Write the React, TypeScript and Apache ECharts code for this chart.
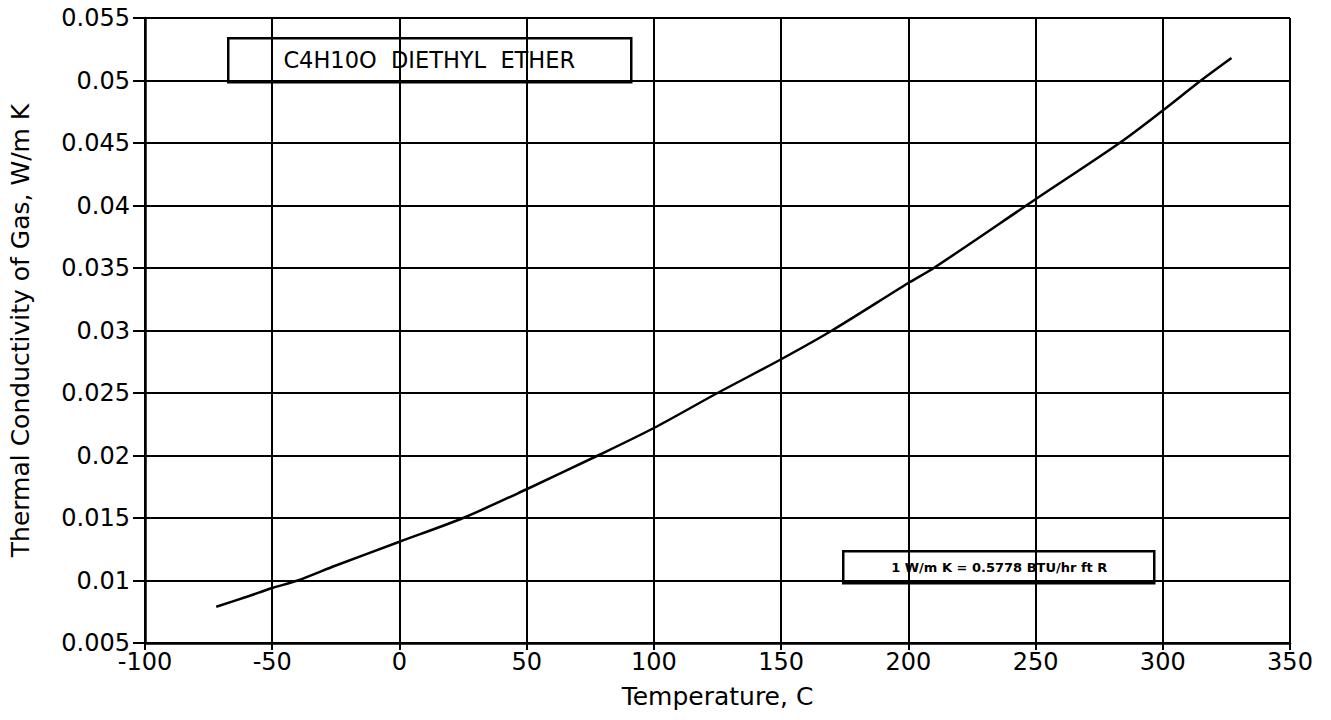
import React, { useEffect, useRef } from "react";
import * as echarts from "echarts";

const temperatureC = [-72, -60, -50, -40, -25, 0, 25, 50, 78, 100, 125, 150, 170, 200, 210, 250, 283, 300, 315, 327];
const conductivity = [0.0079, 0.0087, 0.0094, 0.0100, 0.0112, 0.0131, 0.0150, 0.0173, 0.0200, 0.0222, 0.0250, 0.0277, 0.0300, 0.0338, 0.0350, 0.0405, 0.0450, 0.0476, 0.0500, 0.0518];
const xTicks = [-100, -50, 0, 50, 100, 150, 200, 250, 300, 350];
const yTickLabels = ["0.005", "0.01", "0.015", "0.02", "0.025", "0.03", "0.035", "0.04", "0.045", "0.05", "0.055"];
const titleText = "C4H10O  DIETHYL  ETHER";
const unitText = "1 W/m K = 0.5778 BTU/hr ft R";

const FONT = "'DejaVu Sans', 'Liberation Sans', Arial, sans-serif";

export default function App() {
  const ref = useRef<HTMLDivElement>(null);
  useEffect(() => {
    if (!ref.current) return;
    const chart = echarts.init(ref.current, null, { renderer: "svg" });
    const data = temperatureC.map((t, i) => [t, conductivity[i]]);
    chart.setOption({
      animation: false,
      backgroundColor: "#ffffff",
      grid: { left: 145, right: 41, top: 18, bottom: 77, containLabel: false },
      xAxis: {
        type: "value",
        min: xTicks[0],
        max: xTicks[xTicks.length - 1],
        interval: 50,
        name: "Temperature, C",
        nameLocation: "middle",
        nameGap: 41,
        nameTextStyle: { fontFamily: FONT, fontSize: 25, color: "#000" },
        axisLine: { show: true, onZero: false, lineStyle: { color: "#000", width: 2.5 } },
        axisTick: { show: true, inside: false, length: 7, lineStyle: { color: "#000", width: 2 } },
        axisLabel: { fontFamily: FONT, fontSize: 24, color: "#000", margin: 7 },
        splitLine: { show: true, lineStyle: { color: "#000", width: 2 } },
      },
      yAxis: {
        type: "value",
        min: 0.005,
        max: 0.055,
        interval: 0.005,
        name: "Thermal Conductivity of Gas, W/m K",
        nameLocation: "middle",
        nameGap: 112,
        nameTextStyle: { fontFamily: FONT, fontSize: 25, color: "#000" },
        axisLine: { show: true, onZero: false, lineStyle: { color: "#000", width: 2.5 } },
        axisTick: { show: true, inside: false, length: 12, lineStyle: { color: "#000", width: 2 } },
        axisLabel: {
          fontFamily: FONT,
          fontSize: 24,
          color: "#000",
          margin: 15,
          formatter: (v: number) => {
            const idx = Math.round((v - 0.005) / 0.005);
            return yTickLabels[idx] ?? "";
          },
        },
        splitLine: { show: true, lineStyle: { color: "#000", width: 2 } },
      },
      series: [
        {
          type: "line",
          data,
          smooth: 0.3,
          showSymbol: false,
          lineStyle: { color: "#000", width: 2.5 },
        },
      ],
      graphic: [
        {
          type: "group",
          left: 227,
          top: 37,
          children: [
            {
              type: "rect",
              shape: { x: 0, y: 0, width: 403, height: 44 },
              style: { fill: "#fff", stroke: "#000", lineWidth: 2.5 },
            },
            {
              type: "text",
              x: 201,
              y: 22,
              style: {
                text: titleText,
                fontFamily: FONT,
                fontSize: 22.5,
                fill: "#000",
                align: "center",
                verticalAlign: "middle",
              },
            },
          ],
        },
        {
          type: "group",
          left: 842,
          top: 550,
          children: [
            {
              type: "rect",
              shape: { x: 0, y: 0, width: 311, height: 32 },
              style: { fill: "#fff", stroke: "#000", lineWidth: 2.5 },
            },
            {
              type: "text",
              x: 156,
              y: 16,
              style: {
                text: unitText,
                fontFamily: FONT,
                fontSize: 13,
                fontWeight: "bold",
                fill: "#000",
                align: "center",
                verticalAlign: "middle",
              },
            },
          ],
        },
      ],
    });
    return () => chart.dispose();
  }, []);
  return <div ref={ref} style={{ width: 1331, height: 720, position: "absolute", left: 0, top: 0 }} />;
}
